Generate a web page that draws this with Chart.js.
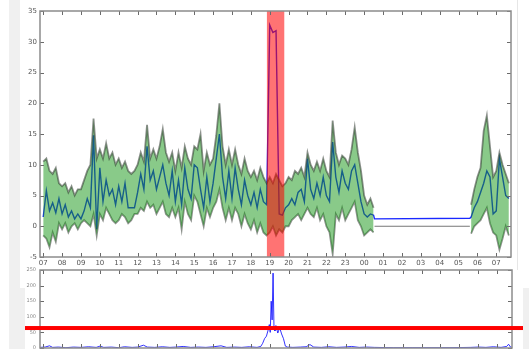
<!DOCTYPE html>
<html><head><meta charset="utf-8">
<script src="https://cdn.jsdelivr.net/npm/chart.js@4.4.0/dist/chart.umd.min.js"></script>
<style>
html,body{margin:0;padding:0;background:#fff;width:529px;height:349px;overflow:hidden;position:relative}
.g{position:absolute;background:#f0f0f0}
canvas{position:absolute}
</style></head><body>
<div class="g" style="left:9px;top:0;width:11px;height:288px"></div>
<div class="g" style="left:9px;top:288px;width:16px;height:61px"></div>
<div class="g" style="left:523px;top:288px;width:6px;height:61px"></div>
<div style="position:absolute;left:517px;top:0;width:1px;height:270px;background:#e6e6e6"></div>
<canvas id="top" width="529" height="288" style="left:0;top:0"></canvas>
<canvas id="bot" width="529" height="93" style="left:0;top:262px"></canvas>
<script>
// ---- x axis (hours after 07:00) ----
const xMin = -0.17, xMax = 24.78;
const tickHours = [0,1,2,3,4,5,6,7,8,9,10,11,12,13,14,15,16,17,18,19,20,21,22,23,24];
const hourLabels = ['07','08','09','10','11','12','13','14','15','16','17','18','19','20','21','22','23','00','01','02','03','04','05','06','07'];
const topYTicks = {min:-5, max:35, step:5};
const botYTicks = {min:0, max:250, step:50};

// ---- segment 1: 07:00 -> 00:30, every 10 minutes ----
const seg1Start = 0, stepH = 1/6;
const blueSeg1 = [
 1.5,5.8,2.5,3.8,2.2,4.5,
 2,3.5,1.5,2.5,1.2,2,
 1.2,2.5,4.5,3,14.8,-0.5,
 9.5,4,7.5,5,6,3.5,
 6.5,4,7,3,3,3,
 5.5,8.5,6,13,7.5,9,
 6,8,10,7,5,9,
 4,7.5,3.5,9.5,6,4.5,
 10,9.5,6,3,8,4,
 7,11,15,8,4.5,9,
 4.5,9.5,6,3.5,7.5,5,
 3.5,5.5,3,6,4,3.5,
 32.7,31.5,31.8,2,1.8,3,
 3.5,4.5,3.5,5.5,6,4,
 11,6,4.5,7,5,8,
 5,4,13.7,8,5.5,9,
 7,6,9,10,7,4,
 2,1.5,2,1.8];
const upperSeg1 = [
 10.5,11,9,8.5,9.5,7,
 6.5,7,5.5,6.5,5,6,
 6,7.5,9,10,17.5,11,
 12.5,11,13.5,11,12,10,
 11,9.5,10.5,9,8.5,9,
 10,12,10.5,16.5,11,12.5,
 11,13,15.8,12,10.5,12,
 9,12,9.5,13,11,10,
 13,12.5,15,9,12,10,
 11,14.8,20,13,10,12.5,
 10,12.5,10,8.5,11,9,
 8,9,7.5,9.5,8,7,
 8,7,8.5,7.5,6.5,7,
 8,7.5,9,8.5,9.5,8,
 12,10,9,10.5,9,11,
 9,8,17.2,12,10,11.5,
 11,10,12.5,16.1,12,9,
 5,3.5,4.5,3];
const lowerSeg1 = [
 -1.5,-2,-3.4,-1,-2.5,0.5,
 -0.5,0.5,-1,0,0.5,-0.5,
 0.5,1,0.5,0,2,-1.5,
 2,1,3,2,1,0.5,
 1,2,1.5,0.5,1,2,
 2,3,2.5,4,3,3.5,
 2,3,4,2,1.5,3,
 1.5,3,-0.5,4,2,1,
 5,4,2,0,3,1.5,
 3,4,6,3,1,3,
 1,3,2,0,2,0.5,
 -0.5,1,-1,0.5,-1,-1.5,
 -1,0,-1.5,-0.5,-1,0,
 0,1,1.5,2,1,2,
 3,2,1.5,3,1,2,
 0,-1,-4.5,2,1,3,
 1,2,3,4,1,0,
 -1.5,-1,-0.5,-1];

// ---- gap 00:30 -> 05:40 ----
const gapBlue = [[17.55,1.2],[22.6,1.3]];
const gapBase = [[17.55,0],[22.6,0]];

// ---- segment 2: 05:40 -> 07:40, every 10 minutes ----
const seg2Start = 22 + 2/3;
const blueSeg2  = [1.5,3,4,5.5,7,9,8,2,2.5,11,8,5,4.5];
const upperSeg2 = [3.5,6,8,9.5,15.5,18,13,8,9,12,10,8.5,7];
const lowerSeg2 = [-1.2,0,0.5,1,2,3,0.5,-1,-1.5,-3.8,-2,0,-1.5];

// ---- highlighted interval (hours) ----
const highlightRange = [11.85, 12.77];

// ---- lower panel series [hour, value] ----
const bottomPairs = [
 [-0.17,2],[0.1,3],[0.33,7],[0.5,2],[0.8,3],[1.2,1],[1.6,3],[2.0,2],[2.4,4],[2.8,2],[3.0,6],[3.2,2],[3.6,3],[4.0,1],[4.3,4],[4.7,2],[5.0,3],[5.3,9],[5.5,3],[5.9,2],[6.3,4],[6.7,2],[7.0,3],[7.4,5],[7.8,2],[8.2,3],[8.6,2],[9.0,4],[9.4,7],[9.7,2],[10.1,3],[10.5,2],[10.9,4],[11.3,2],
 [11.5,5],[11.6,15],[11.7,30],[11.8,38],[11.9,60],[11.95,75],[12.0,50],[12.05,150],[12.1,90],[12.15,240],[12.2,60],[12.25,55],[12.3,72],[12.4,48],[12.5,65],[12.6,45],[12.7,30],[12.8,6],[12.9,3],
 [13.2,2],[13.6,3],[13.9,4],[14.1,11],[14.3,3],[14.7,2],[15.1,4],[15.5,2],[15.9,3],[16.3,5],[16.7,2],[17.1,3],[17.5,2],[18.5,1],[19.5,1],[20.5,1],[21.5,1],[22.6,2],[23.0,3],[23.4,2],[23.8,4],[24.2,2],[24.5,5],[24.6,12],[24.7,3],[24.78,2]
];
const redThreshold = 64;

// ---- build point lists ----
const seg = (start, arr) => arr.map((v,i)=>({x:start+i*stepH, y:v}));
const pairs = arr => arr.map(p=>({x:p[0], y:p[1]}));
const GAP = {x:20, y:null};
const upperPts = [...seg(seg1Start,upperSeg1), GAP, ...seg(seg2Start,upperSeg2)];
const lowerPts = [...seg(seg1Start,lowerSeg1), GAP, ...seg(seg2Start,lowerSeg2)];
const bluePts  = [...seg(seg1Start,blueSeg1), ...pairs(gapBlue), ...seg(seg2Start,blueSeg2)];
const basePts  = pairs(gapBase);
const botPts   = pairs(bottomPairs);

const FONT = 'DejaVu Sans';

const frameTicks = {
  id:'frameTicks',
  afterDraw(chart){
    const {ctx, chartArea:a, scales} = chart;
    ctx.save();
    ctx.strokeStyle = '#6a6a6a'; ctx.lineWidth = 1;
    ctx.beginPath();
    scales.x.ticks.forEach(t=>{
      const px = Math.round(scales.x.getPixelForValue(t.value))+0.5;
      ctx.moveTo(px,a.top); ctx.lineTo(px,a.top+4);
      ctx.moveTo(px,a.bottom); ctx.lineTo(px,a.bottom-4);
    });
    scales.y.ticks.forEach(t=>{
      const py = Math.round(scales.y.getPixelForValue(t.value))+0.5;
      ctx.moveTo(a.left,py); ctx.lineTo(a.left+4,py);
      ctx.moveTo(a.right,py); ctx.lineTo(a.right-4,py);
    });
    ctx.stroke();
    ctx.strokeStyle = '#8c8c8c'; ctx.lineWidth = 1.5;
    ctx.strokeRect(a.left, a.top, a.right-a.left, a.bottom-a.top);
    ctx.restore();
  }
};

const highlight = {
  id:'highlight',
  afterDatasetsDraw(chart){
    const {ctx, chartArea:a, scales} = chart;
    const x1 = scales.x.getPixelForValue(highlightRange[0]);
    const x2 = scales.x.getPixelForValue(highlightRange[1]);
    ctx.save();
    ctx.fillStyle = 'rgba(255,0,0,0.55)';
    ctx.fillRect(x1, a.top, x2-x1, a.bottom-a.top);
    ctx.restore();
  }
};

const threshold = {
  id:'threshold',
  afterDraw(chart){
    const {ctx, scales} = chart;
    const y = scales.y.getPixelForValue(redThreshold);
    ctx.save();
    ctx.fillStyle = '#ff0000';
    ctx.fillRect(25, y-2, 498, 4);
    ctx.restore();
  }
};

const xScale = (showLabels, h) => ({
  type:'linear', min:xMin, max:xMax,
  grid:{display:false, drawTicks:false}, border:{display:false},
  afterBuildTicks: s => { s.ticks = tickHours.map(v=>({value:v})); },
  afterFit: s => { s.height = h; },
  ticks:{display:showLabels, autoSkip:false, maxRotation:0, padding:2,
         font:{size:7, family:FONT}, color:'#555',
         callback:(v,i)=>hourLabels[i]}
});

new Chart(document.getElementById('top'), {
  type:'line',
  data:{datasets:[
    {data:upperPts, borderColor:'rgba(45,55,45,0.55)', borderWidth:1.8, pointRadius:0, tension:0,
     fill:'+1', backgroundColor:'rgba(20,150,20,0.5)', spanGaps:false},
    {data:lowerPts, borderColor:'rgba(45,55,45,0.55)', borderWidth:1.8, pointRadius:0, tension:0,
     fill:false, spanGaps:false},
    {data:basePts, borderColor:'#777', borderWidth:1, pointRadius:0, fill:false},
    {data:bluePts, borderColor:'rgb(25,40,255)', borderWidth:1.4, pointRadius:0, tension:0, fill:false}
  ]},
  options:{
    responsive:false, animation:false, devicePixelRatio:1,
    plugins:{legend:{display:false}, tooltip:{enabled:false}},
    layout:{padding:{top:11, right:18, left:0, bottom:0}},
    scales:{
      x: xScale(true, 31),
      y:{min:topYTicks.min, max:topYTicks.max,
         grid:{display:false, drawTicks:false}, border:{display:false},
         afterFit: s => { s.width = 40; },
         ticks:{stepSize:topYTicks.step, padding:3, font:{size:7, family:FONT}, color:'#555'}}
    }
  },
  plugins:[highlight, frameTicks]
});

new Chart(document.getElementById('bot'), {
  type:'line',
  data:{datasets:[
    {data:botPts, borderColor:'rgba(0,0,255,0.8)', borderWidth:1, pointRadius:0, tension:0, fill:false}
  ]},
  options:{
    responsive:false, animation:false, devicePixelRatio:1,
    plugins:{legend:{display:false}, tooltip:{enabled:false}},
    layout:{padding:{top:8, right:17, left:0, bottom:1}},
    scales:{
      x: xScale(false, 0),
      y:{min:botYTicks.min, max:botYTicks.max,
         grid:{display:false, drawTicks:false}, border:{display:false},
         afterFit: s => { s.width = 40; },
         ticks:{stepSize:botYTicks.step, padding:4, font:{size:5, family:FONT}, color:'#888'}}
    }
  },
  plugins:[frameTicks, threshold]
});
</script>
</body></html>
